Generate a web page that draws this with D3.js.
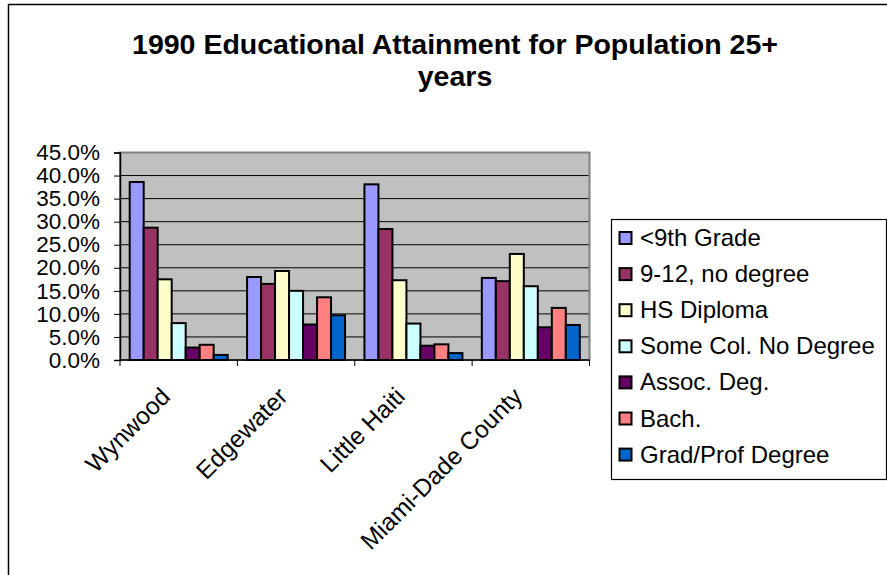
<!DOCTYPE html>
<html lang="en">
<head>
  <meta charset="utf-8" />
  <style>
    body { margin: 0; background: #fff; }
    svg text { font-family: "Liberation Sans", Arial, sans-serif; }
  </style>
</head>
<body>
<div id="container"></div>
<script src="https://cdn.jsdelivr.net/npm/d3@7"></script>
<script>

const areas = ['Wynwood', 'Edgewater', 'Little Haiti', 'Miami-Dade County'];
const levels = ['<9th Grade', '9-12, no degree', 'HS Diploma', 'Some Col. No Degree',
  'Assoc. Deg.', 'Bach.', 'Grad/Prof Degree'];

// percent of population 25+, one array per attainment level (same order as areas)
const lessThan9th = [38.6, 18.0, 38.1, 17.8];
const noDegree912 = [28.7, 16.5, 28.4, 17.1];
const hsDiploma = [17.5, 19.3, 17.3, 23.0];
const someCollege = [8.0, 15.0, 7.9, 16.0];
const assocDeg = [2.7, 7.7, 3.1, 7.1];
const bachelors = [3.3, 13.6, 3.4, 11.3];
const gradProf = [1.1, 9.7, 1.5, 7.6];

const seriesValues = [lessThan9th, noDegree912, hsDiploma, someCollege, assocDeg, bachelors, gradProf];
const colors = ['#9999FF', '#993366', '#FFFFCC', '#CCFFFF', '#660066', '#FF8080', '#0066CC'];
const yTicks = [0, 5, 10, 15, 20, 25, 30, 35, 40, 45];

const W = 887, H = 575;
const plot = { left: 120, top: 152.5, right: 589.5, bottom: 360 };

const svg = d3.select('#container')
  .append('svg')
  .attr('width', W)
  .attr('height', H);

// chart area border (runs off the right / bottom of the picture)
svg.append('rect')
  .attr('x', 8.5).attr('y', 4.5)
  .attr('width', 900).attr('height', 600)
  .attr('fill', '#fff')
  .attr('stroke', '#000')
  .attr('stroke-width', 1.5);

// title, two lines
const title = svg.append('text')
  .attr('text-anchor', 'middle')
  .attr('font-weight', 'bold')
  .attr('font-size', 28.5)
  .attr('fill', '#000');
title.append('tspan').attr('x', 455).attr('y', 54).text('1990 Educational Attainment for Population 25+');
title.append('tspan').attr('x', 455).attr('y', 86).text('years');

const x0 = d3.scaleBand()
  .domain(areas)
  .range([plot.left, plot.right]);

const x1 = d3.scaleBand()
  .domain(levels)
  .range([9.7, x0.bandwidth() - 9.7]);

const y = d3.scaleLinear()
  .domain([0, 45])
  .range([plot.bottom, plot.top]);

// plot background
svg.append('rect')
  .attr('x', plot.left).attr('y', plot.top)
  .attr('width', plot.right - plot.left)
  .attr('height', plot.bottom - plot.top)
  .attr('fill', '#C0C0C0');

// gridlines
svg.append('g')
  .selectAll('line')
  .data(yTicks.filter(d => d > 0))
  .enter()
  .append('line')
  .attr('x1', plot.left).attr('x2', plot.right)
  .attr('y1', d => y(d)).attr('y2', d => y(d))
  .attr('stroke', '#000')
  .attr('stroke-width', 1);

// plot border
svg.append('rect')
  .attr('x', plot.left).attr('y', plot.top)
  .attr('width', plot.right - plot.left)
  .attr('height', plot.bottom - plot.top)
  .attr('fill', 'none')
  .attr('stroke', '#808080')
  .attr('stroke-width', 2);

// bars
const rows = [];
areas.forEach((a, i) => {
  levels.forEach((l, j) => rows.push({ area: a, level: l, value: seriesValues[j][i], color: colors[j] }));
});

svg.append('g')
  .selectAll('rect')
  .data(rows)
  .enter()
  .append('rect')
  .attr('x', d => x0(d.area) + x1(d.level))
  .attr('y', d => y(d.value))
  .attr('width', x1.bandwidth())
  .attr('height', d => y(0) - y(d.value))
  .attr('fill', d => d.color)
  .attr('stroke', '#000')
  .attr('stroke-width', 2);

// y axis
const yAxis = svg.append('g')
  .attr('transform', `translate(${plot.left}, 0)`)
  .call(d3.axisLeft(y).tickValues(yTicks).tickSize(6).tickPadding(14)
    .tickFormat(d => d3.format('.1f')(d) + '%'));
yAxis.select('.domain').attr('stroke', '#000').attr('stroke-width', 1.5);
yAxis.selectAll('.tick line').attr('stroke', '#000');
yAxis.selectAll('text')
  .attr('font-size', 22.5)
  .attr('fill', '#000')
  .attr('font-family', '"Liberation Sans", Arial, sans-serif');

// x axis: ticks on category boundaries
svg.append('line')
  .attr('x1', plot.left).attr('x2', plot.right)
  .attr('y1', plot.bottom).attr('y2', plot.bottom)
  .attr('stroke', '#000').attr('stroke-width', 1.5);

svg.append('g')
  .selectAll('line')
  .data(areas.concat(['end']))
  .enter()
  .append('line')
  .attr('x1', (d, i) => plot.left + i * x0.step())
  .attr('x2', (d, i) => plot.left + i * x0.step())
  .attr('y1', plot.bottom).attr('y2', plot.bottom + 6)
  .attr('stroke', '#000');

svg.append('g')
  .selectAll('text')
  .data(areas)
  .enter()
  .append('text')
  .attr('transform', d => `translate(${x0(d) + x0.bandwidth() / 2 - 7}, 398) rotate(-45)`)
  .attr('text-anchor', 'end')
  .attr('font-size', 24.5)
  .attr('fill', '#000')
  .text(d => d);

// legend
const legend = svg.append('g').attr('transform', 'translate(611, 219)');
legend.append('rect')
  .attr('x', 0.5).attr('y', 0.5)
  .attr('width', 275).attr('height', 260)
  .attr('fill', '#fff')
  .attr('stroke', '#000')
  .attr('stroke-width', 1.2);

const item = legend.selectAll('g.item')
  .data(levels)
  .enter()
  .append('g')
  .attr('class', 'item')
  .attr('transform', (d, i) => `translate(0, ${18.5 + i * 36.1})`);

item.append('rect')
  .attr('x', 8.5).attr('y', -5.5)
  .attr('width', 12).attr('height', 12)
  .attr('fill', (d, i) => colors[i])
  .attr('stroke', '#000')
  .attr('stroke-width', 2);

item.append('text')
  .attr('x', 29)
  .attr('y', 8.5)
  .attr('font-size', 24)
  .attr('fill', '#000')
  .text(d => d);

</script>
</body>
</html>
